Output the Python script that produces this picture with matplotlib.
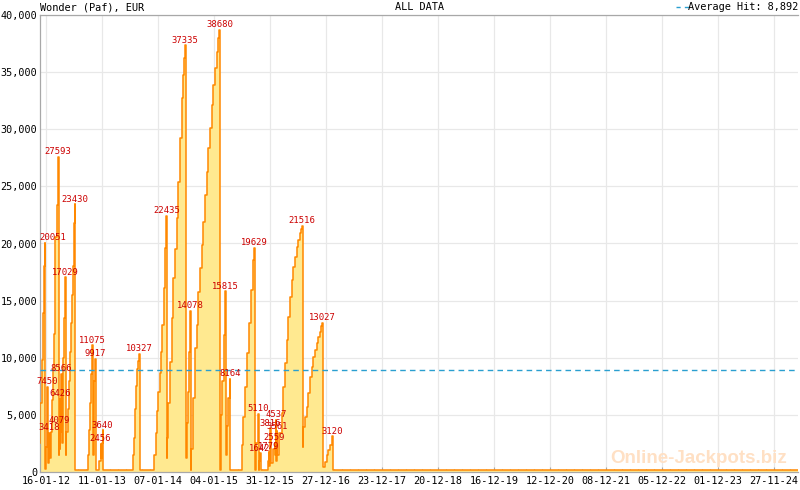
import matplotlib
matplotlib.use("Agg")
import matplotlib.pyplot as plt
from matplotlib.lines import Line2D
import numpy as np
import pandas as pd

title_left = "Wonder (Paf), EUR"
title_mid = "ALL DATA"
avg_label = "Average Hit: 8,892"
avg_hit = 8892
watermark = "Online-Jackpots.biz"

dates = [
    "2011-12-10", "2011-12-11", "2011-12-20", "2011-12-28", "2012-01-03", "2012-01-08",
    "2012-01-11", "2012-01-15", "2012-01-20", "2012-01-24",
    "2012-01-28", "2012-02-02", "2012-02-07",
    "2012-02-11", "2012-02-17", "2012-02-24", "2012-03-01", "2012-03-06", "2012-03-12",
    "2012-03-14", "2012-03-16", "2012-03-25", "2012-04-01", "2012-04-04",
    "2012-04-08", "2012-04-11", "2012-04-14", "2012-04-17", "2012-04-21", "2012-04-24",
    "2012-04-28", "2012-05-02", "2012-05-07", "2012-05-11", "2012-05-15", "2012-05-18",
    "2012-05-21", "2012-05-27", "2012-06-03", "2012-06-09", "2012-06-16", "2012-06-22",
    "2012-06-29", "2012-07-05", "2012-07-12", "2012-07-17", "2012-07-21",
    "2012-07-24", "2012-10-13", "2012-10-20", "2012-10-26", "2012-11-01", "2012-11-10",
    "2012-11-13", "2012-11-18", "2012-11-23", "2012-11-29",
    "2012-12-02", "2012-12-26", "2013-01-02", "2013-01-05", "2013-01-10", "2013-01-15",
    "2013-01-18", "2013-07-31", "2013-08-06", "2013-08-12", "2013-08-19", "2013-08-25",
    "2013-09-01", "2013-09-07",
    "2013-09-11", "2013-12-15", "2013-12-24", "2013-12-31", "2014-01-08", "2014-01-21",
    "2014-01-29", "2014-02-05", "2014-02-14", "2014-02-18", "2014-02-24", "2014-03-03",
    "2014-03-06", "2014-03-09", "2014-03-15", "2014-03-26", "2014-04-06", "2014-04-17",
    "2014-04-28", "2014-05-09", "2014-05-19", "2014-05-30", "2014-06-10", "2014-06-20",
    "2014-06-27", "2014-07-03",
    "2014-07-06", "2014-07-11", "2014-07-21", "2014-07-27", "2014-08-03",
    "2014-08-06", "2014-08-09", "2014-08-24", "2014-09-04", "2014-09-15", "2014-09-25",
    "2014-10-06", "2014-10-17", "2014-10-27", "2014-11-07", "2014-11-18", "2014-11-29",
    "2014-12-10", "2014-12-21", "2014-12-31", "2015-01-11", "2015-01-22", "2015-02-01",
    "2015-02-08",
    "2015-02-11", "2015-02-17", "2015-02-27", "2015-03-08", "2015-03-18",
    "2015-03-22", "2015-03-29", "2015-04-07", "2015-04-16",
    "2015-04-20", "2015-07-02", "2015-07-13", "2015-07-24", "2015-08-04", "2015-08-20",
    "2015-08-31", "2015-09-11", "2015-09-20",
    "2015-09-23", "2015-10-03", "2015-10-17",
    "2015-10-21", "2015-10-24", "2015-10-28",
    "2015-11-01", "2015-12-19", "2015-12-24",
    "2015-12-27", "2016-01-01",
    "2016-01-04", "2016-01-17", "2016-01-30",
    "2016-02-02", "2016-02-09",
    "2016-02-11", "2016-02-15",
    "2016-02-18", "2016-02-28", "2016-03-16", "2016-03-27", "2016-04-07", "2016-04-18",
    "2016-04-28", "2016-05-09", "2016-05-20", "2016-05-30", "2016-06-10", "2016-06-21",
    "2016-07-02", "2016-07-13", "2016-07-21", "2016-07-25",
    "2016-07-29", "2016-08-03", "2016-08-14", "2016-08-25", "2016-09-04", "2016-09-15",
    "2016-09-26", "2016-10-06", "2016-10-17", "2016-10-28", "2016-11-08", "2016-11-19",
    "2016-11-28", "2016-12-03",
    "2016-12-07", "2016-12-21", "2017-01-01", "2017-01-11", "2017-01-22", "2017-02-02",
    "2017-02-06",
    "2017-02-09", "2025-04-28",
]
values = [
    2500, 6000, 9800, 13900, 18000, 20051,
    300, 2200, 5000, 7450,
    800, 2000, 3418,
    1200, 3500, 6300, 9000, 12100, 15000,
    17800, 20600, 23370, 26150, 27593,
    1500, 4079, 2000, 6426, 3500, 8566,
    2500, 6000, 10000, 13500, 16000, 17029,
    1500, 3500, 5500, 8000, 10500, 13000,
    15500, 18000, 20300, 21800, 23430,
    200, 1500, 3700, 6000, 8600, 11075,
    1500, 4000, 8000, 9917,
    200, 1000, 2456, 1200, 2500, 3640,
    200, 1500, 3000, 5500, 7500, 9000,
    9700, 10327,
    200, 1500, 3400, 5300, 7000, 8640,
    10500, 12870, 14000, 16080, 19580, 22435,
    1200, 3000, 6000, 9600, 13500, 17000,
    19500, 22200, 25400, 29200, 32700, 34750,
    36200, 37335,
    1200, 4300, 7000, 10500, 14078,
    200, 2000, 6450, 10830, 12870, 15760,
    17830, 19870, 21910, 24250, 26290, 28330,
    30080, 32120, 33880, 35330, 36790, 37960,
    38680,
    200, 5000, 8000, 12000, 15815,
    1500, 4000, 6500, 8164,
    200, 2360, 4840, 7470, 10390, 13010,
    15930, 18560, 19629,
    200, 2500, 5110,
    200, 1000, 1642,
    200, 1000, 1779,
    500, 3816,
    800, 2000, 2559,
    1500, 4537,
    1000, 3561,
    1500, 3400, 5140, 7470, 9510, 11550,
    13600, 15350, 16800, 17970, 18850, 19720,
    20310, 20890, 21240, 21516,
    2210, 3970, 4840, 5720, 6890, 8340,
    9220, 10100, 10680, 11260, 11850, 12280,
    12780, 13027,
    470, 900, 1490, 1930, 2360, 2800,
    3120,
    200, 200,
]
hits = [20051, 7450, 3418, 27593, 4079, 6426, 8566, 17029, 23430, 11075, 9917,
        2456, 3640, 10327, 22435, 37335, 14078, 38680, 15815, 8164, 19629, 5110,
        1642, 1779, 3816, 2559, 4537, 3561, 21516, 13027, 3120]

tick_dates = ["2012-01-16", "2013-01-11", "2014-01-07", "2015-01-04", "2015-12-31",
              "2016-12-27", "2017-12-23", "2018-12-20", "2019-12-16", "2020-12-12",
              "2021-12-08", "2022-12-05", "2023-12-01", "2024-11-27"]
y_ticks = [0, 5000, 10000, 15000, 20000, 25000, 30000, 35000, 40000]
x_range = ["2011-12-08", "2025-05-01"]

mono = "DejaVu Sans Mono"
fill_col = "#FFE990"
line_col = "#FF8800"
avg_col = "#2A9FD0"
label_col = "#CC0000"
grid_col = "#E8E8E8"
spine_col = "#A8A8A8"

d = pd.to_datetime(dates)
v = np.array(values, dtype=float)
tks = pd.to_datetime(tick_dates)

fig = plt.figure(figsize=(8, 4.9), dpi=100)
ax = fig.add_axes([40 / 800, 18 / 490, 758 / 800, 457 / 490])

ax.fill_between(d, v, 0, step="post", color=fill_col, lw=0, zorder=2)
ax.step(d, v, where="post", color=line_col, lw=1.1, zorder=3)
ax.axhline(avg_hit, color=avg_col, lw=1.0, ls=(0, (4, 3)), zorder=4)

for h in hits:
    i = values.index(h)
    dx = 6 if d[i] < tks[0] else 0
    ax.annotate(str(h), (d[i], v[i]), xytext=(dx, 0.5), textcoords="offset points",
                ha="center", va="bottom", color=label_col, fontsize=6.4,
                family=mono, zorder=6, annotation_clip=False)

ax.set_xlim(pd.Timestamp(x_range[0]), pd.Timestamp(x_range[1]))
ax.set_ylim(0, 40000)
ax.set_xticks(tks)
ax.set_xticklabels([t.strftime("%d-%m-%y") for t in tks], family=mono, fontsize=7.3)
minor = []
for a, b in zip(tks[:-1], tks[1:]):
    step = (b - a) / 7
    minor += [a + step * k for k in range(1, 7)]
step = (tks[-1] - tks[-2]) / 7
k = 1
while tks[-1] + step * k < pd.Timestamp(x_range[1]):
    minor.append(tks[-1] + step * k)
    k += 1
ax.set_xticks(minor, minor=True)
ax.set_yticks(y_ticks)
ax.set_yticklabels([f"{t:,}" for t in y_ticks], family=mono, fontsize=7.3)
ax.tick_params(axis="x", which="both", direction="in", colors=spine_col, labelcolor="black",
               length=2.5, width=0.8, pad=3)
ax.tick_params(axis="x", which="major", length=3.5)
ax.tick_params(axis="y", length=0, pad=2, labelcolor="black")
ax.grid(True, which="major", color=grid_col, lw=0.9, zorder=0)
ax.set_axisbelow(True)
for s in ax.spines.values():
    s.set_color(spine_col)
    s.set_linewidth(0.9)
ax.spines["right"].set_visible(False)

fig.text(40 / 800, 1 - 7 / 490, title_left, ha="left", va="center", family=mono, fontsize=7.4)
fig.text(419 / 800, 1 - 7 / 490, title_mid, ha="center", va="center", family=mono, fontsize=7.4)
fig.text(798 / 800, 1 - 7 / 490, avg_label, ha="right", va="center", family=mono, fontsize=7.4)
fig.add_artist(Line2D([676 / 800, 691 / 800], [1 - 7 / 490, 1 - 7 / 490],
                      transform=fig.transFigure, color=avg_col, lw=1.0, ls=(0, (3, 3))))
fig.text(699 / 800, 1 - 458 / 490, watermark, ha="center", va="center",
         family="Liberation Sans", fontweight="bold", fontsize=13.5, color="#FFE0C4", zorder=10)

fig.savefig("out.png", dpi=100)
